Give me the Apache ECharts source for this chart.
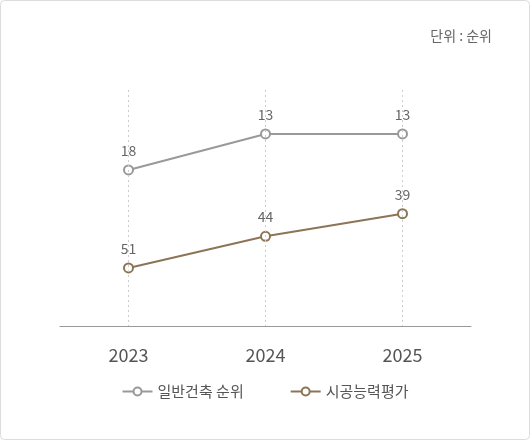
<!DOCTYPE html><html><head><meta charset="utf-8"><script src="https://cdn.jsdelivr.net/npm/echarts@6/dist/echarts.min.js"></script>
<style>html,body{margin:0;padding:0;background:#fff}#c{width:530px;height:440px}</style></head><body><div id="c"></div><script>
const categories=['2023','2024','2025'];
const generalRank=[18,13,13];
const capacityRank=[51,44,39];
const seriesNames=['일반건축 순위','시공능력평가'];
const unitText='단위 : 순위';
const font='"Noto Sans CJK KR","Noto Sans",sans-serif';
const chart=echarts.init(document.getElementById('c'));
chart.setOption({
 animation:false,
 graphic:[{type:'rect',shape:{x:0.5,y:0.5,width:529,height:439,r:4},style:{fill:'none',stroke:'#dcdcdc',lineWidth:1}},
  {type:'text',right:38,top:29,style:{text:unitText,fill:'#666',font:'14px '+font}}],
 legend:{bottom:36,left:'center',itemGap:46,itemWidth:30,itemHeight:10,textStyle:{color:'#555',fontSize:15,fontFamily:font},data:seriesNames},
 grid:{left:60,right:59,top:90,bottom:114},
 xAxis:{type:'category',data:categories,axisTick:{show:false},axisLine:{lineStyle:{color:'#999',width:1}},
  axisLabel:{color:'#555',fontSize:18,margin:20,fontFamily:font}},
 yAxis:[{type:'value',inverse:true,min:6.9,max:39.68,show:false,splitLine:{show:false}},
  {type:'value',inverse:true,min:11.63,max:63.84,show:false,splitLine:{show:false}}],
 series:[
  {name:seriesNames[0],type:'line',yAxisIndex:0,data:generalRank,symbol:'circle',symbolSize:9,
   lineStyle:{color:'#999',width:2},itemStyle:{color:'#fff',borderColor:'#999',borderWidth:2},
   label:{show:true,position:'top',distance:7,color:'#666',fontSize:14,fontFamily:font},
   markLine:{silent:true,symbol:'none',label:{show:false},lineStyle:{color:'#ccc',type:[2,3],width:1},
    data:categories.map(c=>({xAxis:c}))}},
  {name:seriesNames[1],type:'line',yAxisIndex:1,data:capacityRank,symbol:'circle',symbolSize:9,
   lineStyle:{color:'#8c7456',width:2},itemStyle:{color:'#fff',borderColor:'#8c7456',borderWidth:2},
   label:{show:true,position:'top',distance:7,color:'#666',fontSize:14,fontFamily:font}}
 ]
});
</script></body></html>
